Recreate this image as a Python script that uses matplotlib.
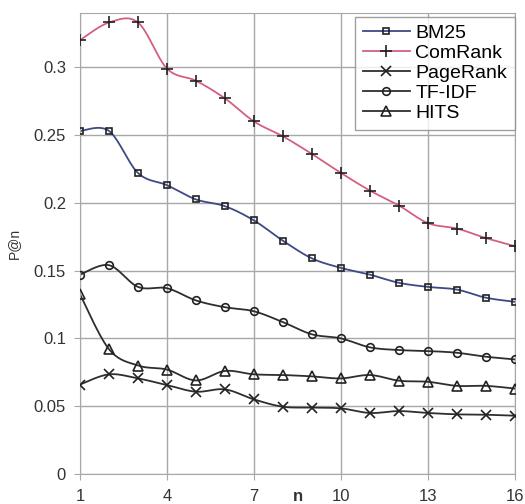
import numpy as np
import matplotlib
matplotlib.use("Agg")
import matplotlib.pyplot as plt

plt.rcParams['font.family'] = ['Liberation Sans', 'DejaVu Sans']

# data
n = [1, 2, 3, 4, 5, 6, 7, 8, 9, 10, 11, 12, 13, 14, 15, 16]
bm25 = [0.253, 0.253, 0.222, 0.213, 0.2025, 0.1975, 0.187, 0.172,
        0.159, 0.152, 0.147, 0.141, 0.138, 0.136, 0.130, 0.127]
comrank = [0.320, 0.333, 0.333, 0.299, 0.290, 0.277, 0.260, 0.249,
           0.236, 0.222, 0.209, 0.198, 0.185, 0.181, 0.174, 0.168]
pagerank = [0.066, 0.0735, 0.0705, 0.0656, 0.0607, 0.0624, 0.055, 0.0496,
            0.049, 0.0484, 0.045, 0.0464, 0.045, 0.044, 0.0437, 0.043]
tfidf = [0.147, 0.154, 0.138, 0.137, 0.128, 0.123, 0.120, 0.112,
         0.103, 0.100, 0.0934, 0.0914, 0.0907, 0.0894, 0.0865, 0.0845]
hits = [0.1325, 0.092, 0.080, 0.077, 0.069, 0.076, 0.0735, 0.073,
        0.072, 0.0705, 0.073, 0.0688, 0.068, 0.065, 0.065, 0.063]


def smooth(x, y, steps=20):
    # Excel-style smoothed line (Catmull-Rom as cubic bezier)
    x = np.asarray(x, float)
    y = np.asarray(y, float)
    px = np.concatenate([[x[0]], x, [x[-1]]])
    py = np.concatenate([[y[0]], y, [y[-1]]])
    t = np.linspace(0, 1, steps)[:, None]
    xs, ys = [], []
    for i in range(1, len(px) - 2):
        p0 = np.array([px[i], py[i]])
        p3 = np.array([px[i + 1], py[i + 1]])
        p1 = p0 + (p3 - np.array([px[i - 1], py[i - 1]])) / 6
        p2 = p3 - (np.array([px[i + 2], py[i + 2]]) - p0) / 6
        pts = ((1 - t) ** 3) * p0 + 3 * ((1 - t) ** 2) * t * p1 \
            + 3 * (1 - t) * t ** 2 * p2 + t ** 3 * p3
        xs.append(pts[:, 0])
        ys.append(pts[:, 1])
    return np.concatenate(xs), np.concatenate(ys)


fig = plt.figure(figsize=(5.25, 5.04), dpi=100)
ax = fig.add_axes([80 / 525, 1 - 474 / 504, 435 / 525, 461 / 504])

series = [
    ("BM25", bm25, 's', 5, '#3d4a86'),
    ("ComRank", comrank, '+', 9, '#d4607e'),
    ("PageRank", pagerank, 'x', 7, '#2e2e2e'),
    ("TF-IDF", tfidf, 'o', 5.5, '#2e2e2e'),
    ("HITS", hits, '^', 6.5, '#2e2e2e'),
]

for name, vals, mk, ms, col in series:
    sx, sy = smooth(n, vals)
    ax.plot(sx, sy, color=col, lw=1.3, zorder=2)
    ax.plot(n, vals, linestyle='none', marker=mk, ms=ms, mfc='none',
            mec='#222222', mew=1.2, zorder=3)
    # legend proxy
    ax.plot([], [], color=col, lw=1.3, marker=mk, ms=ms, mfc='none',
            mec='#222222', mew=1.2, label=name)

ax.set_xlim(1, 16)
ax.set_ylim(0, 0.34)
ax.set_xticks([1, 4, 7, 10, 13, 16])
ax.set_yticks([0, 0.05, 0.1, 0.15, 0.2, 0.25, 0.3])
ax.set_yticklabels(['0', '0.05', '0.1', '0.15', '0.2', '0.25', '0.3'])
ax.grid(True, color='#a8a8a8', lw=1)
for s in ax.spines.values():
    s.set_color('#a8a8a8')
ax.tick_params(labelsize=12, colors='#333333', color='#a8a8a8', length=4)
ax.tick_params(axis='x', pad=7)
ax.tick_params(axis='y', pad=6)

ax.set_xlabel('n', fontsize=12, fontweight='bold', color='#333333')
ax.xaxis.set_label_coords(0.5, -0.032)
ax.set_ylabel('P@n', fontsize=10, color='#333333')
ax.yaxis.set_label_coords(-0.135, 0.5)

leg = ax.legend(loc='upper right', bbox_to_anchor=(1.0, 0.992), fontsize=14,
                frameon=True, fancybox=False, edgecolor='#888888',
                handlelength=2.4, labelspacing=0.12, borderpad=0.4,
                handletextpad=0.3, borderaxespad=0)
leg.get_frame().set_linewidth(1)

plt.savefig("out.png", dpi=100)
